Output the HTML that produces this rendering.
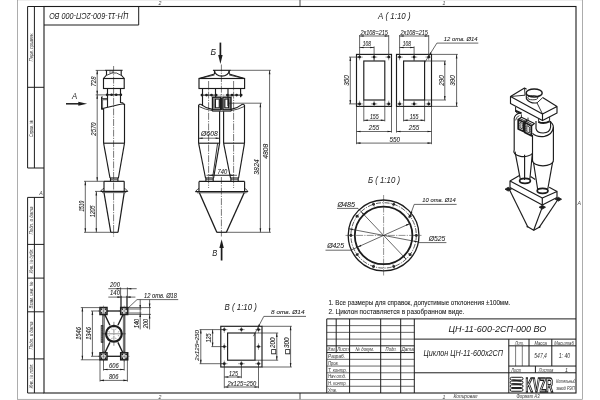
<!DOCTYPE html>
<html lang="ru"><head><meta charset="utf-8"><title>ЦН-11-600-2СП-000 ВО</title>
<style>
html,body{margin:0;padding:0;background:#fff;}
body{width:600px;height:400px;overflow:hidden;}
svg{display:block;will-change:transform;font-family:"Liberation Sans","DejaVu Sans",sans-serif;}
</style></head><body>
<svg width="600" height="400" viewBox="0 0 600 400" stroke-linecap="butt">
<rect x="0" y="0" width="600" height="400" fill="#fff"/>
<g id="frame">
<rect x="17.6" y="-0.2" width="565" height="399.5" fill="none" stroke="#8a8a8a" stroke-width="0.7"/>
<rect x="44" y="6.5" width="532" height="386.5" fill="none" stroke="#1c1c1c" stroke-width="1.1"/>
<line x1="44" y1="25" x2="138.7" y2="25" stroke="#1c1c1c" stroke-width="1"/>
<line x1="138.7" y1="6.5" x2="138.7" y2="25" stroke="#1c1c1c" stroke-width="1"/>
<text x="0" y="0" font-size="9" fill="#1a1a1a" textLength="79.2" lengthAdjust="spacingAndGlyphs" font-style="italic" transform="translate(128.4 13.4) rotate(180)">ЦН-11-600-2СП-000 ВО</text>
<line x1="27.6" y1="6.5" x2="27.6" y2="168" stroke="#1c1c1c" stroke-width="1"/>
<line x1="34.4" y1="6.5" x2="34.4" y2="168" stroke="#1c1c1c" stroke-width="1"/>
<line x1="27.6" y1="6.5" x2="44" y2="6.5" stroke="#1c1c1c" stroke-width="1"/>
<line x1="27.6" y1="168" x2="44" y2="168" stroke="#1c1c1c" stroke-width="1"/>
<line x1="27.6" y1="87.3" x2="44" y2="87.3" stroke="#1c1c1c" stroke-width="1"/>
<line x1="27.6" y1="197.4" x2="27.6" y2="393" stroke="#1c1c1c" stroke-width="1"/>
<line x1="34.4" y1="197.4" x2="34.4" y2="393" stroke="#1c1c1c" stroke-width="1"/>
<line x1="27.6" y1="197.4" x2="44" y2="197.4" stroke="#1c1c1c" stroke-width="1"/>
<line x1="27.6" y1="393" x2="44" y2="393" stroke="#1c1c1c" stroke-width="1"/>
<line x1="27.6" y1="244.4" x2="44" y2="244.4" stroke="#1c1c1c" stroke-width="1"/>
<line x1="27.6" y1="278.1" x2="44" y2="278.1" stroke="#1c1c1c" stroke-width="1"/>
<line x1="27.6" y1="311.8" x2="44" y2="311.8" stroke="#1c1c1c" stroke-width="1"/>
<line x1="27.6" y1="358.9" x2="44" y2="358.9" stroke="#1c1c1c" stroke-width="1"/>
<text x="0" y="0" font-size="4.9" fill="#333" textLength="29" lengthAdjust="spacingAndGlyphs" text-anchor="middle" font-style="italic" transform="translate(33 47) rotate(-90)">Перв. примен.</text>
<text x="0" y="0" font-size="4.9" fill="#333" textLength="17" lengthAdjust="spacingAndGlyphs" text-anchor="middle" font-style="italic" transform="translate(33 128.5) rotate(-90)">Справ. №</text>
<text x="0" y="0" font-size="4.9" fill="#333" textLength="28" lengthAdjust="spacingAndGlyphs" text-anchor="middle" font-style="italic" transform="translate(33 220.6) rotate(-90)">Подп. и дата</text>
<text x="0" y="0" font-size="4.9" fill="#333" textLength="25" lengthAdjust="spacingAndGlyphs" text-anchor="middle" font-style="italic" transform="translate(33 261) rotate(-90)">Инв. № дубл.</text>
<text x="0" y="0" font-size="4.9" fill="#333" textLength="27" lengthAdjust="spacingAndGlyphs" text-anchor="middle" font-style="italic" transform="translate(33 295) rotate(-90)">Взам. инв. №</text>
<text x="0" y="0" font-size="4.9" fill="#333" textLength="28" lengthAdjust="spacingAndGlyphs" text-anchor="middle" font-style="italic" transform="translate(33 335.5) rotate(-90)">Подп. и дата</text>
<text x="0" y="0" font-size="4.9" fill="#333" textLength="25" lengthAdjust="spacingAndGlyphs" text-anchor="middle" font-style="italic" transform="translate(33 376) rotate(-90)">Инв. № подл.</text>
<text x="39.2" y="195.2" font-size="5.2" fill="#444" font-style="italic">А</text>
<text x="577.6" y="204.8" font-size="5.2" fill="#444" font-style="italic">А</text>
<text x="158.4" y="5.2" font-size="5.2" fill="#444" font-style="italic">2</text>
<text x="442.4" y="5.2" font-size="5.2" fill="#444" font-style="italic">1</text>
<text x="158.4" y="398.6" font-size="5.2" fill="#444" font-style="italic">2</text>
<text x="442.4" y="398.6" font-size="5.2" fill="#444" font-style="italic">1</text>
<line x1="300" y1="0" x2="300" y2="6.5" stroke="#1c1c1c" stroke-width="0.8"/>
<line x1="300" y1="393" x2="300" y2="399.3" stroke="#1c1c1c" stroke-width="0.8"/>
</g>
<g id="titleblock">
<line x1="326.75" y1="318.9" x2="576" y2="318.9" stroke="#1c1c1c" stroke-width="1"/>
<line x1="326.75" y1="318.9" x2="326.75" y2="393" stroke="#1c1c1c" stroke-width="1"/>
<line x1="336.2" y1="318.9" x2="336.2" y2="352.58" stroke="#1c1c1c" stroke-width="1"/>
<line x1="349.6" y1="318.9" x2="349.6" y2="393" stroke="#1c1c1c" stroke-width="1"/>
<line x1="380.7" y1="318.9" x2="380.7" y2="393" stroke="#1c1c1c" stroke-width="1"/>
<line x1="400.7" y1="318.9" x2="400.7" y2="393" stroke="#1c1c1c" stroke-width="1"/>
<line x1="414.3" y1="318.9" x2="414.3" y2="393" stroke="#1c1c1c" stroke-width="1"/>
<line x1="326.75" y1="325.64" x2="414.3" y2="325.64" stroke="#262626" stroke-width="0.7"/>
<line x1="326.75" y1="332.37" x2="414.3" y2="332.37" stroke="#262626" stroke-width="0.7"/>
<line x1="326.75" y1="339.11" x2="414.3" y2="339.11" stroke="#262626" stroke-width="0.7"/>
<line x1="326.75" y1="345.84" x2="414.3" y2="345.84" stroke="#1c1c1c" stroke-width="1"/>
<line x1="326.75" y1="352.58" x2="414.3" y2="352.58" stroke="#1c1c1c" stroke-width="1"/>
<line x1="326.75" y1="359.32" x2="414.3" y2="359.32" stroke="#262626" stroke-width="0.7"/>
<line x1="326.75" y1="366.05" x2="414.3" y2="366.05" stroke="#262626" stroke-width="0.7"/>
<line x1="326.75" y1="372.79" x2="414.3" y2="372.79" stroke="#262626" stroke-width="0.7"/>
<line x1="326.75" y1="379.52" x2="414.3" y2="379.52" stroke="#262626" stroke-width="0.7"/>
<line x1="326.75" y1="386.26" x2="414.3" y2="386.26" stroke="#262626" stroke-width="0.7"/>
<line x1="414.3" y1="339.11" x2="576" y2="339.11" stroke="#1c1c1c" stroke-width="1"/>
<line x1="414.3" y1="372.79" x2="576" y2="372.79" stroke="#1c1c1c" stroke-width="1"/>
<line x1="508.8" y1="339.11" x2="508.8" y2="393" stroke="#1c1c1c" stroke-width="1"/>
<line x1="508.8" y1="345.84" x2="576" y2="345.84" stroke="#1c1c1c" stroke-width="1"/>
<line x1="508.8" y1="366.05" x2="576" y2="366.05" stroke="#1c1c1c" stroke-width="1"/>
<line x1="529" y1="339.11" x2="529" y2="366.05" stroke="#1c1c1c" stroke-width="1"/>
<line x1="551.8" y1="339.11" x2="551.8" y2="366.05" stroke="#1c1c1c" stroke-width="1"/>
<line x1="515.6" y1="345.84" x2="515.6" y2="366.05" stroke="#262626" stroke-width="0.6"/>
<line x1="522.3" y1="345.84" x2="522.3" y2="366.05" stroke="#262626" stroke-width="0.6"/>
<line x1="535.4" y1="366.05" x2="535.4" y2="372.79" stroke="#1c1c1c" stroke-width="1"/>
<text x="448.4" y="331.8" font-size="9.4" fill="#1a1a1a" textLength="98" lengthAdjust="spacingAndGlyphs" font-style="italic">ЦН-11-600-2СП-000 ВО</text>
<text x="423.5" y="355.6" font-size="8.6" fill="#1a1a1a" textLength="79.5" lengthAdjust="spacingAndGlyphs" font-style="italic">Циклон ЦН-11-600х2СП</text>
<text x="327.6" y="351.28" font-size="5.3" fill="#333" textLength="8" lengthAdjust="spacingAndGlyphs" font-style="italic">Изм.</text>
<text x="337.2" y="351.28" font-size="5.3" fill="#333" textLength="11.4" lengthAdjust="spacingAndGlyphs" font-style="italic">Лист</text>
<text x="355.6" y="351.28" font-size="5.3" fill="#333" textLength="18.6" lengthAdjust="spacingAndGlyphs" font-style="italic">№ докум.</text>
<text x="385.6" y="351.28" font-size="5.3" fill="#333" textLength="11.2" lengthAdjust="spacingAndGlyphs" font-style="italic">Подп.</text>
<text x="401.4" y="351.28" font-size="5.3" fill="#333" textLength="12.4" lengthAdjust="spacingAndGlyphs" font-style="italic">Дата</text>
<text x="328" y="358.12" font-size="5.3" fill="#333" textLength="17" lengthAdjust="spacingAndGlyphs" font-style="italic">Разраб.</text>
<text x="328" y="364.85" font-size="5.3" fill="#333" textLength="10.6" lengthAdjust="spacingAndGlyphs" font-style="italic">Пров.</text>
<text x="328" y="371.59" font-size="5.3" fill="#333" textLength="19" lengthAdjust="spacingAndGlyphs" font-style="italic">Т. контр.</text>
<text x="328" y="378.32" font-size="5.3" fill="#333" textLength="18" lengthAdjust="spacingAndGlyphs" font-style="italic">Нач.отд.</text>
<text x="328" y="385.06" font-size="5.3" fill="#333" textLength="18.6" lengthAdjust="spacingAndGlyphs" font-style="italic">Н. контр.</text>
<text x="328" y="391.8" font-size="5.3" fill="#333" textLength="9" lengthAdjust="spacingAndGlyphs" font-style="italic">Утв.</text>
<text x="515" y="344.64" font-size="5.3" fill="#333" textLength="8.8" lengthAdjust="spacingAndGlyphs" font-style="italic">Лит.</text>
<text x="534.4" y="344.64" font-size="5.3" fill="#333" textLength="12.6" lengthAdjust="spacingAndGlyphs" font-style="italic">Масса</text>
<text x="554.2" y="344.64" font-size="5.3" fill="#333" textLength="19.6" lengthAdjust="spacingAndGlyphs" font-style="italic">Масштаб</text>
<text x="540.6" y="358.3" font-size="6.3" fill="#333" textLength="12.6" lengthAdjust="spacingAndGlyphs" text-anchor="middle" font-style="italic">547,4</text>
<text x="564.4" y="358.3" font-size="6.3" fill="#333" textLength="11.4" lengthAdjust="spacingAndGlyphs" text-anchor="middle" font-style="italic">1: 40</text>
<text x="511.2" y="371.59" font-size="5.3" fill="#333" textLength="10" lengthAdjust="spacingAndGlyphs" font-style="italic">Лист</text>
<text x="538.8" y="371.59" font-size="5.3" fill="#333" textLength="14.4" lengthAdjust="spacingAndGlyphs" font-style="italic">Листов</text>
<text x="565" y="371.59" font-size="5.3" fill="#333" font-style="italic">1</text>
<text x="556.2" y="382.6" font-size="5.2" fill="#333" textLength="19.4" lengthAdjust="spacingAndGlyphs" font-style="italic">Котельный</text>
<text x="556.2" y="390" font-size="5.2" fill="#333" textLength="18.4" lengthAdjust="spacingAndGlyphs" font-style="italic">завод РЭП</text>
<text x="453.5" y="398.2" font-size="5.2" fill="#333" textLength="24" lengthAdjust="spacingAndGlyphs" font-style="italic">Копировал</text>
<text x="516.5" y="398.2" font-size="5.2" fill="#333" textLength="23" lengthAdjust="spacingAndGlyphs" font-style="italic">Формат А3</text>
<rect x="510.2" y="377.3" width="12.8" height="2.7" rx="1.35" fill="#fff" stroke="#1c1c1c" stroke-width="1.0"/>
<rect x="510.2" y="381.05" width="12.8" height="2.7" rx="1.35" fill="#fff" stroke="#1c1c1c" stroke-width="1.0"/>
<rect x="510.2" y="384.8" width="12.8" height="2.7" rx="1.35" fill="#fff" stroke="#1c1c1c" stroke-width="1.0"/>
<rect x="510.2" y="388.55" width="12.8" height="2.7" rx="1.35" fill="#fff" stroke="#1c1c1c" stroke-width="1.0"/>
<line x1="512.4" y1="380" x2="521" y2="381.05" stroke="#1c1c1c" stroke-width="1"/>
<line x1="513.6" y1="380" x2="522.2" y2="381.05" stroke="#262626" stroke-width="0.6"/>
<line x1="512.4" y1="383.75" x2="521" y2="384.8" stroke="#1c1c1c" stroke-width="1"/>
<line x1="513.6" y1="383.75" x2="522.2" y2="384.8" stroke="#262626" stroke-width="0.6"/>
<line x1="512.4" y1="387.5" x2="521" y2="388.55" stroke="#1c1c1c" stroke-width="1"/>
<line x1="513.6" y1="387.5" x2="522.2" y2="388.55" stroke="#262626" stroke-width="0.6"/>
<text x="525.6" y="391.7" font-size="20.6" font-weight="bold" fill="#fff" stroke="#1c1c1c" stroke-width="1.45" stroke-linejoin="miter" textLength="27.6" lengthAdjust="spacingAndGlyphs">KVZR</text>
</g>
<text x="328.4" y="305.2" font-size="6.5" fill="#222" stroke="#222" stroke-width="0.08" textLength="181.8" lengthAdjust="spacingAndGlyphs">1. Все размеры для справок, допустимые отклонения ±100мм.</text>
<text x="328.4" y="313.6" font-size="6.5" fill="#222" stroke="#222" stroke-width="0.08" textLength="136" lengthAdjust="spacingAndGlyphs">2. Циклон поставляется в разобранном виде.</text>
<g id="side">
<line x1="113.6" y1="66" x2="113.6" y2="236.5" stroke="#1c1c1c" stroke-width="0.6" stroke-dasharray="7 1.2 1.2 1.2"/>
<line x1="105" y1="70.3" x2="122.6" y2="70.3" stroke="#1c1c1c" stroke-width="1.1"/>
<line x1="106.5" y1="70.3" x2="106.5" y2="75" stroke="#1c1c1c" stroke-width="1.15"/>
<line x1="121.2" y1="70.3" x2="121.2" y2="75" stroke="#1c1c1c" stroke-width="1.15"/>
<line x1="110" y1="70.3" x2="110" y2="73.4" stroke="#262626" stroke-width="0.7"/>
<line x1="112.2" y1="70.3" x2="112.2" y2="73" stroke="#262626" stroke-width="0.7"/>
<path d="M106.5 75 L103.5 78.5" fill="none" stroke="#1c1c1c" stroke-width="1.15" stroke-linejoin="round"/>
<path d="M121.2 75 L124.2 78.5" fill="none" stroke="#1c1c1c" stroke-width="1.15" stroke-linejoin="round"/>
<path d="M106.5 75.4 L112 73 L116.5 73 L121.2 75.4" fill="none" stroke="#1c1c1c" stroke-width="0.8" stroke-linejoin="round"/>
<rect x="103.5" y="78.5" width="20.7" height="10" fill="none" stroke="#1c1c1c" stroke-width="1.15"/>
<line x1="107.5" y1="88.5" x2="107.5" y2="107.2" stroke="#1c1c1c" stroke-width="1.15"/>
<line x1="120.5" y1="88.5" x2="120.5" y2="103" stroke="#1c1c1c" stroke-width="1.15"/>
<line x1="106.3" y1="94.8" x2="121.7" y2="94.8" stroke="#1c1c1c" stroke-width="1.2"/>
<circle cx="107.1" cy="94.8" r="1.3" fill="#1c1c1c"/>
<circle cx="111.6" cy="94.8" r="1.3" fill="#1c1c1c"/>
<circle cx="116.2" cy="94.8" r="1.3" fill="#1c1c1c"/>
<circle cx="120.9" cy="94.8" r="1.3" fill="#1c1c1c"/>
<line x1="101.6" y1="96.8" x2="101.6" y2="109.6" stroke="#1c1c1c" stroke-width="1.1"/>
<line x1="101.6" y1="97" x2="103" y2="97" stroke="#1c1c1c" stroke-width="0.8"/>
<line x1="101.6" y1="109.4" x2="103" y2="109.4" stroke="#1c1c1c" stroke-width="0.8"/>
<line x1="101.6" y1="98.8" x2="107.5" y2="98.8" stroke="#1c1c1c" stroke-width="1.15"/>
<line x1="102.6" y1="99.8" x2="102.6" y2="108.6" stroke="#262626" stroke-width="0.7"/>
<line x1="102.6" y1="99.8" x2="107.5" y2="99.8" stroke="#262626" stroke-width="0.6"/>
<line x1="101.6" y1="108.4" x2="103.6" y2="108.4" stroke="#1c1c1c" stroke-width="1.15"/>
<line x1="103.6" y1="108.2" x2="103.6" y2="143.2" stroke="#1c1c1c" stroke-width="1.15"/>
<line x1="124.5" y1="104" x2="124.5" y2="143.2" stroke="#1c1c1c" stroke-width="1.15"/>
<path d="M103.6 108.3 L120.5 104.2 Q123.5 103.4 124.5 104.6" fill="none" stroke="#1c1c1c" stroke-width="1.15"/>
<path d="M120.5 102.4 Q123.8 102 124.5 104.4" fill="none" stroke="#1c1c1c" stroke-width="0.8"/>
<line x1="103.6" y1="143.2" x2="124.5" y2="143.2" stroke="#1c1c1c" stroke-width="1.15"/>
<line x1="103.6" y1="143.2" x2="110" y2="178" stroke="#1c1c1c" stroke-width="1.15"/>
<line x1="124.5" y1="143.2" x2="118.4" y2="178" stroke="#1c1c1c" stroke-width="1.15"/>
<line x1="110" y1="178" x2="118.4" y2="178" stroke="#1c1c1c" stroke-width="1.15"/>
<line x1="110.5" y1="178" x2="110.5" y2="181.3" stroke="#1c1c1c" stroke-width="1.15"/>
<line x1="117.9" y1="178" x2="117.9" y2="181.3" stroke="#1c1c1c" stroke-width="1.15"/>
<line x1="110.5" y1="179.6" x2="117.9" y2="179.6" stroke="#262626" stroke-width="0.7"/>
<line x1="104" y1="181.3" x2="124.2" y2="181.3" stroke="#1c1c1c" stroke-width="1.2"/>
<line x1="104" y1="181.3" x2="104" y2="191.4" stroke="#1c1c1c" stroke-width="1.15"/>
<line x1="124.2" y1="181.3" x2="124.2" y2="191.4" stroke="#1c1c1c" stroke-width="1.15"/>
<line x1="100.4" y1="191.4" x2="127.8" y2="191.4" stroke="#1c1c1c" stroke-width="1.2"/>
<path d="M100.4 191.4 L103 188.6 L104 188.6" fill="none" stroke="#1c1c1c" stroke-width="0.8" stroke-linejoin="round"/>
<path d="M127.8 191.4 L125.2 188.6 L124.2 188.6" fill="none" stroke="#1c1c1c" stroke-width="0.8" stroke-linejoin="round"/>
<line x1="102" y1="192.6" x2="126.2" y2="192.6" stroke="#262626" stroke-width="0.7"/>
<line x1="104" y1="192.6" x2="110.8" y2="232.3" stroke="#1c1c1c" stroke-width="1.2"/>
<line x1="124.2" y1="192.6" x2="118" y2="232.3" stroke="#1c1c1c" stroke-width="1.2"/>
<line x1="110.8" y1="232.3" x2="118" y2="232.3" stroke="#1c1c1c" stroke-width="1.1"/>
<line x1="95.7" y1="70.4" x2="105" y2="70.4" stroke="#262626" stroke-width="0.7"/>
<line x1="95.7" y1="94.9" x2="106.3" y2="94.9" stroke="#262626" stroke-width="0.7"/>
<line x1="97.2" y1="70.3" x2="97.2" y2="94.8" stroke="#262626" stroke-width="0.7"/>
<polygon points="97.2,70.3 98,74.3 96.4,74.3" fill="#1c1c1c"/>
<polygon points="97.2,94.8 96.4,90.8 98,90.8" fill="#1c1c1c"/>
<text x="0" y="0" font-size="6.5" fill="#1a1a1a" stroke="#1a1a1a" stroke-width="0.08" textLength="9.8" lengthAdjust="spacingAndGlyphs" text-anchor="middle" font-style="italic" transform="translate(95.6 81.5) rotate(-90)">728</text>
<line x1="97.2" y1="94.8" x2="97.2" y2="181.3" stroke="#262626" stroke-width="0.7"/>
<polygon points="97.2,94.8 98,98.8 96.4,98.8" fill="#1c1c1c"/>
<polygon points="97.2,181.3 96.4,177.3 98,177.3" fill="#1c1c1c"/>
<text x="0" y="0" font-size="6.5" fill="#1a1a1a" stroke="#1a1a1a" stroke-width="0.08" textLength="13.4" lengthAdjust="spacingAndGlyphs" text-anchor="middle" font-style="italic" transform="translate(95.6 129) rotate(-90)">2570</text>
<line x1="84" y1="181.3" x2="104" y2="181.3" stroke="#262626" stroke-width="0.7"/>
<line x1="84" y1="232.3" x2="110.8" y2="232.3" stroke="#262626" stroke-width="0.7"/>
<line x1="85.3" y1="181.3" x2="85.3" y2="232.3" stroke="#262626" stroke-width="0.7"/>
<polygon points="85.3,181.3 86.1,185.3 84.5,185.3" fill="#1c1c1c"/>
<polygon points="85.3,232.3 84.5,228.3 86.1,228.3" fill="#1c1c1c"/>
<text x="0" y="0" font-size="6.8" fill="#1a1a1a" stroke="#1a1a1a" stroke-width="0.08" textLength="10.8" lengthAdjust="spacingAndGlyphs" text-anchor="middle" font-style="italic" transform="translate(84.2 206.2) rotate(-90)">1510</text>
<line x1="95" y1="191.4" x2="100.4" y2="191.4" stroke="#262626" stroke-width="0.7"/>
<line x1="96.3" y1="191.4" x2="96.3" y2="232.3" stroke="#262626" stroke-width="0.7"/>
<polygon points="96.3,191.4 97.1,195.4 95.5,195.4" fill="#1c1c1c"/>
<polygon points="96.3,232.3 95.5,228.3 97.1,228.3" fill="#1c1c1c"/>
<text x="0" y="0" font-size="6.8" fill="#1a1a1a" stroke="#1a1a1a" stroke-width="0.08" textLength="11.8" lengthAdjust="spacingAndGlyphs" text-anchor="middle" font-style="italic" transform="translate(95.2 211.4) rotate(-90)">1205</text>
<line x1="66" y1="103.8" x2="80" y2="103.8" stroke="#1c1c1c" stroke-width="1.5"/>
<polygon points="87.1,103.8 78.3,105.75 78.3,101.85" fill="#1c1c1c"/>
<text x="72" y="98.7" font-size="9" fill="#1a1a1a" textLength="5.2" lengthAdjust="spacingAndGlyphs" font-style="italic">А</text>
</g>
<g id="front">
<line x1="221.4" y1="64.5" x2="221.4" y2="97" stroke="#1c1c1c" stroke-width="0.6" stroke-dasharray="7 1.2 1.2 1.2"/>
<line x1="221.4" y1="177" x2="221.4" y2="236.5" stroke="#1c1c1c" stroke-width="0.6" stroke-dasharray="7 1.2 1.2 1.2"/>
<line x1="208.6" y1="81" x2="208.6" y2="188" stroke="#1c1c1c" stroke-width="0.6" stroke-dasharray="7 1.2 1.2 1.2"/>
<line x1="233.6" y1="81" x2="233.6" y2="188" stroke="#1c1c1c" stroke-width="0.6" stroke-dasharray="7 1.2 1.2 1.2"/>
<line x1="220.4" y1="42.6" x2="220.4" y2="57" stroke="#1c1c1c" stroke-width="1.7"/>
<polygon points="220.4,63.9 218.2,55.1 222.6,55.1" fill="#1c1c1c"/>
<text x="210.4" y="54.7" font-size="9.4" fill="#1a1a1a" textLength="5.6" lengthAdjust="spacingAndGlyphs" font-style="italic">Б</text>
<line x1="212.9" y1="70.3" x2="230.9" y2="70.3" stroke="#1c1c1c" stroke-width="1.1"/>
<line x1="214.5" y1="70.3" x2="214.5" y2="74" stroke="#1c1c1c" stroke-width="1.15"/>
<line x1="229.2" y1="70.3" x2="229.2" y2="74" stroke="#1c1c1c" stroke-width="1.15"/>
<path d="M214.5 70.5 A7.35 5.6 0 0 0 229.2 70.5" fill="none" stroke="#1c1c1c" stroke-width="1.15"/>
<line x1="214.5" y1="74" x2="199" y2="78.5" stroke="#1c1c1c" stroke-width="1.15"/>
<line x1="229.2" y1="74" x2="244.6" y2="78.5" stroke="#1c1c1c" stroke-width="1.15"/>
<rect x="199" y="78.5" width="45.6" height="10" fill="none" stroke="#1c1c1c" stroke-width="1.15"/>
<line x1="202.5" y1="88.5" x2="202.5" y2="106" stroke="#1c1c1c" stroke-width="1.15"/>
<line x1="215.5" y1="88.5" x2="215.5" y2="97.2" stroke="#1c1c1c" stroke-width="1.15"/>
<line x1="201.5" y1="95.1" x2="216.5" y2="95.1" stroke="#1c1c1c" stroke-width="1"/>
<circle cx="201.9" cy="95.1" r="1.35" fill="#1c1c1c"/>
<circle cx="206.5" cy="95.1" r="1.35" fill="#1c1c1c"/>
<circle cx="211.5" cy="95.1" r="1.35" fill="#1c1c1c"/>
<circle cx="216.1" cy="95.1" r="1.35" fill="#1c1c1c"/>
<line x1="228" y1="88.5" x2="228" y2="106" stroke="#1c1c1c" stroke-width="1.15"/>
<line x1="240.6" y1="88.5" x2="240.6" y2="97.2" stroke="#1c1c1c" stroke-width="1.15"/>
<line x1="227" y1="95.1" x2="241.6" y2="95.1" stroke="#1c1c1c" stroke-width="1"/>
<circle cx="227.4" cy="95.1" r="1.35" fill="#1c1c1c"/>
<circle cx="232" cy="95.1" r="1.35" fill="#1c1c1c"/>
<circle cx="236.6" cy="95.1" r="1.35" fill="#1c1c1c"/>
<circle cx="241.2" cy="95.1" r="1.35" fill="#1c1c1c"/>
<line x1="216.5" y1="95.1" x2="227" y2="95.1" stroke="#1c1c1c" stroke-width="0.5" stroke-dasharray="2 1"/>
<line x1="214.5" y1="75" x2="200.4" y2="78.3" stroke="#1c1c1c" stroke-width="0.8"/>
<line x1="229.2" y1="75" x2="243.2" y2="78.3" stroke="#1c1c1c" stroke-width="0.8"/>
<rect x="212.5" y="97.2" width="8.1" height="12.6" fill="none" stroke="#1c1c1c" stroke-width="1.4"/>
<rect x="215.4" y="99" width="3.9" height="8.9" fill="none" stroke="#1c1c1c" stroke-width="1.2"/>
<rect x="223" y="97.2" width="8" height="12.6" fill="none" stroke="#1c1c1c" stroke-width="1.4"/>
<rect x="224.8" y="99" width="3.7" height="8.9" fill="none" stroke="#1c1c1c" stroke-width="1.2"/>
<line x1="228.7" y1="98.2" x2="230.9" y2="98.2" stroke="#1c1c1c" stroke-width="0.6"/>
<line x1="228.7" y1="99.25" x2="230.9" y2="99.25" stroke="#1c1c1c" stroke-width="0.6"/>
<line x1="228.7" y1="100.3" x2="230.9" y2="100.3" stroke="#1c1c1c" stroke-width="0.6"/>
<line x1="228.7" y1="101.35" x2="230.9" y2="101.35" stroke="#1c1c1c" stroke-width="0.6"/>
<line x1="228.7" y1="102.4" x2="230.9" y2="102.4" stroke="#1c1c1c" stroke-width="0.6"/>
<line x1="228.7" y1="103.45" x2="230.9" y2="103.45" stroke="#1c1c1c" stroke-width="0.6"/>
<line x1="228.7" y1="104.5" x2="230.9" y2="104.5" stroke="#1c1c1c" stroke-width="0.6"/>
<line x1="228.7" y1="105.55" x2="230.9" y2="105.55" stroke="#1c1c1c" stroke-width="0.6"/>
<line x1="228.7" y1="106.6" x2="230.9" y2="106.6" stroke="#1c1c1c" stroke-width="0.6"/>
<line x1="228.7" y1="107.65" x2="230.9" y2="107.65" stroke="#1c1c1c" stroke-width="0.6"/>
<line x1="228.7" y1="108.7" x2="230.9" y2="108.7" stroke="#1c1c1c" stroke-width="0.6"/>
<line x1="212.7" y1="98.2" x2="215.2" y2="98.2" stroke="#1c1c1c" stroke-width="0.5"/>
<line x1="212.7" y1="99.25" x2="215.2" y2="99.25" stroke="#1c1c1c" stroke-width="0.5"/>
<line x1="212.7" y1="100.3" x2="215.2" y2="100.3" stroke="#1c1c1c" stroke-width="0.5"/>
<line x1="212.7" y1="101.35" x2="215.2" y2="101.35" stroke="#1c1c1c" stroke-width="0.5"/>
<line x1="212.7" y1="102.4" x2="215.2" y2="102.4" stroke="#1c1c1c" stroke-width="0.5"/>
<line x1="212.7" y1="103.45" x2="215.2" y2="103.45" stroke="#1c1c1c" stroke-width="0.5"/>
<line x1="212.7" y1="104.5" x2="215.2" y2="104.5" stroke="#1c1c1c" stroke-width="0.5"/>
<line x1="212.7" y1="105.55" x2="215.2" y2="105.55" stroke="#1c1c1c" stroke-width="0.5"/>
<line x1="212.7" y1="106.6" x2="215.2" y2="106.6" stroke="#1c1c1c" stroke-width="0.5"/>
<line x1="212.7" y1="107.65" x2="215.2" y2="107.65" stroke="#1c1c1c" stroke-width="0.5"/>
<line x1="212.7" y1="108.7" x2="215.2" y2="108.7" stroke="#1c1c1c" stroke-width="0.5"/>
<line x1="221.8" y1="97.5" x2="221.8" y2="110" stroke="#1c1c1c" stroke-width="1.5"/>
<path d="M212.3 109.8 L212.3 111.2 L231.2 111.2 L231.2 109.8" fill="none" stroke="#1c1c1c" stroke-width="0.9"/>
<line x1="198.6" y1="105" x2="198.6" y2="143.2" stroke="#1c1c1c" stroke-width="1.15"/>
<line x1="244.5" y1="105" x2="244.5" y2="143.2" stroke="#1c1c1c" stroke-width="1.15"/>
<path d="M198.6 105.4 Q199.5 103.6 201.3 104.6 Q206 108.4 212.4 109.4" fill="none" stroke="#1c1c1c" stroke-width="1.15"/>
<path d="M199.2 106.6 Q205 109.6 212.4 110.6" fill="none" stroke="#1c1c1c" stroke-width="0.8"/>
<path d="M244.5 105.4 Q243.6 103.6 241.8 104.6 Q237 108.4 231.1 109.4" fill="none" stroke="#1c1c1c" stroke-width="1.15"/>
<path d="M244 106.6 Q238 109.6 231.1 110.6" fill="none" stroke="#1c1c1c" stroke-width="0.8"/>
<line x1="219.6" y1="111.2" x2="219.6" y2="143.2" stroke="#1c1c1c" stroke-width="1.15"/>
<line x1="223.6" y1="111.2" x2="223.6" y2="143.2" stroke="#1c1c1c" stroke-width="1.15"/>
<line x1="198.6" y1="143.2" x2="219.6" y2="143.2" stroke="#1c1c1c" stroke-width="1.15"/>
<line x1="223.6" y1="143.2" x2="244.5" y2="143.2" stroke="#1c1c1c" stroke-width="1.15"/>
<line x1="198.6" y1="138.2" x2="219.6" y2="138.2" stroke="#262626" stroke-width="0.7"/>
<polygon points="198.6,138.2 202.6,137.4 202.6,139" fill="#1c1c1c"/>
<polygon points="219.6,138.2 215.6,139 215.6,137.4" fill="#1c1c1c"/>
<text x="209.4" y="136" font-size="6.8" fill="#1a1a1a" stroke="#1a1a1a" stroke-width="0.08" textLength="16.6" lengthAdjust="spacingAndGlyphs" text-anchor="middle" font-style="italic">Ø608</text>
<line x1="198.6" y1="143.2" x2="205.5" y2="178" stroke="#1c1c1c" stroke-width="1.15"/>
<line x1="219.6" y1="143.2" x2="213.6" y2="178" stroke="#1c1c1c" stroke-width="1.15"/>
<line x1="217.6" y1="143.2" x2="212.8" y2="176.5" stroke="#1c1c1c" stroke-width="0.9"/>
<line x1="223.6" y1="143.2" x2="230.5" y2="178" stroke="#1c1c1c" stroke-width="1.15"/>
<line x1="244.5" y1="143.2" x2="238.6" y2="178" stroke="#1c1c1c" stroke-width="1.15"/>
<line x1="205.5" y1="178" x2="213.6" y2="178" stroke="#1c1c1c" stroke-width="1.15"/>
<line x1="205.9" y1="178" x2="205.9" y2="181.3" stroke="#1c1c1c" stroke-width="1.15"/>
<line x1="213.2" y1="178" x2="213.2" y2="181.3" stroke="#1c1c1c" stroke-width="1.15"/>
<line x1="205.9" y1="179.6" x2="213.2" y2="179.6" stroke="#262626" stroke-width="0.7"/>
<line x1="230.5" y1="178" x2="238.6" y2="178" stroke="#1c1c1c" stroke-width="1.15"/>
<line x1="230.9" y1="178" x2="230.9" y2="181.3" stroke="#1c1c1c" stroke-width="1.15"/>
<line x1="238.2" y1="178" x2="238.2" y2="181.3" stroke="#1c1c1c" stroke-width="1.15"/>
<line x1="230.9" y1="179.6" x2="238.2" y2="179.6" stroke="#262626" stroke-width="0.7"/>
<line x1="209" y1="175.3" x2="234" y2="175.3" stroke="#262626" stroke-width="0.7"/>
<polygon points="209,175.3 213,174.5 213,176.1" fill="#1c1c1c"/>
<polygon points="234,175.3 230,176.1 230,174.5" fill="#1c1c1c"/>
<line x1="206.5" y1="175.3" x2="237" y2="175.3" stroke="#262626" stroke-width="0.7"/>
<text x="222.3" y="174" font-size="7" fill="#1a1a1a" stroke="#1a1a1a" stroke-width="0.08" textLength="9.6" lengthAdjust="spacingAndGlyphs" text-anchor="middle" font-style="italic">740</text>
<line x1="199" y1="181.4" x2="244.6" y2="181.4" stroke="#1c1c1c" stroke-width="1.2"/>
<line x1="199" y1="181.4" x2="199" y2="191.6" stroke="#1c1c1c" stroke-width="1.15"/>
<line x1="244.6" y1="181.4" x2="244.6" y2="191.6" stroke="#1c1c1c" stroke-width="1.15"/>
<line x1="195.4" y1="191.6" x2="248" y2="191.6" stroke="#1c1c1c" stroke-width="1.2"/>
<path d="M195.4 191.6 L198 188.8 L199 188.8" fill="none" stroke="#1c1c1c" stroke-width="0.8" stroke-linejoin="round"/>
<path d="M248 191.6 L245.6 188.8 L244.6 188.8" fill="none" stroke="#1c1c1c" stroke-width="0.8" stroke-linejoin="round"/>
<line x1="197" y1="192.8" x2="246.6" y2="192.8" stroke="#262626" stroke-width="0.7"/>
<line x1="199.4" y1="192.8" x2="216.8" y2="232.3" stroke="#1c1c1c" stroke-width="1.3"/>
<line x1="244.2" y1="192.8" x2="226.4" y2="232.3" stroke="#1c1c1c" stroke-width="1.3"/>
<line x1="216.6" y1="232.3" x2="226.6" y2="232.3" stroke="#1c1c1c" stroke-width="1.2"/>
<line x1="230.9" y1="70.3" x2="270.8" y2="70.3" stroke="#262626" stroke-width="0.7"/>
<line x1="226" y1="232.3" x2="270.8" y2="232.3" stroke="#262626" stroke-width="0.7"/>
<line x1="229" y1="103.2" x2="261.6" y2="103.2" stroke="#262626" stroke-width="0.7"/>
<line x1="260.4" y1="103.2" x2="260.4" y2="232.3" stroke="#262626" stroke-width="0.7"/>
<polygon points="260.4,103.2 261.2,107.2 259.6,107.2" fill="#1c1c1c"/>
<polygon points="260.4,232.3 259.6,228.3 261.2,228.3" fill="#1c1c1c"/>
<text x="0" y="0" font-size="7" fill="#1a1a1a" stroke="#1a1a1a" stroke-width="0.08" textLength="15.5" lengthAdjust="spacingAndGlyphs" text-anchor="middle" font-style="italic" transform="translate(259.2 167) rotate(-90)">3824</text>
<line x1="269.6" y1="70.3" x2="269.6" y2="232.3" stroke="#262626" stroke-width="0.7"/>
<polygon points="269.6,70.3 270.4,74.3 268.8,74.3" fill="#1c1c1c"/>
<polygon points="269.6,232.3 268.8,228.3 270.4,228.3" fill="#1c1c1c"/>
<text x="0" y="0" font-size="7" fill="#1a1a1a" stroke="#1a1a1a" stroke-width="0.08" textLength="15" lengthAdjust="spacingAndGlyphs" text-anchor="middle" font-style="italic" transform="translate(268.4 151.3) rotate(-90)">4808</text>
<line x1="221.6" y1="260.5" x2="221.6" y2="246" stroke="#1c1c1c" stroke-width="1.7"/>
<polygon points="221.6,239.3 223.8,248.1 219.4,248.1" fill="#1c1c1c"/>
<text x="212.2" y="255.5" font-size="8.8" fill="#1a1a1a" textLength="5" lengthAdjust="spacingAndGlyphs" font-style="italic">В</text>
</g>
<g id="viewA">
<text x="378" y="18.8" font-size="8.2" fill="#1a1a1a" textLength="32.6" lengthAdjust="spacingAndGlyphs" font-style="italic">А ( 1:10 )</text>
<rect x="356.5" y="54.4" width="35" height="52" fill="none" stroke="#1c1c1c" stroke-width="1.15"/>
<rect x="363.8" y="61" width="21" height="39" fill="none" stroke="#1c1c1c" stroke-width="1.15"/>
<line x1="356.4" y1="57.1" x2="362.8" y2="57.1" stroke="#555" stroke-width="0.6"/>
<line x1="359.6" y1="53.9" x2="359.6" y2="60.3" stroke="#555" stroke-width="0.6"/>
<circle cx="359.6" cy="57.1" r="1.4" fill="#1c1c1c"/>
<line x1="356.4" y1="103.9" x2="362.8" y2="103.9" stroke="#555" stroke-width="0.6"/>
<line x1="359.6" y1="100.7" x2="359.6" y2="107.1" stroke="#555" stroke-width="0.6"/>
<circle cx="359.6" cy="103.9" r="1.4" fill="#1c1c1c"/>
<line x1="370.9" y1="57.1" x2="377.3" y2="57.1" stroke="#555" stroke-width="0.6"/>
<line x1="374.1" y1="53.9" x2="374.1" y2="60.3" stroke="#555" stroke-width="0.6"/>
<circle cx="374.1" cy="57.1" r="1.4" fill="#1c1c1c"/>
<line x1="370.9" y1="103.9" x2="377.3" y2="103.9" stroke="#555" stroke-width="0.6"/>
<line x1="374.1" y1="100.7" x2="374.1" y2="107.1" stroke="#555" stroke-width="0.6"/>
<circle cx="374.1" cy="103.9" r="1.4" fill="#1c1c1c"/>
<line x1="385.5" y1="57.1" x2="391.9" y2="57.1" stroke="#555" stroke-width="0.6"/>
<line x1="388.7" y1="53.9" x2="388.7" y2="60.3" stroke="#555" stroke-width="0.6"/>
<circle cx="388.7" cy="57.1" r="1.4" fill="#1c1c1c"/>
<line x1="385.5" y1="103.9" x2="391.9" y2="103.9" stroke="#555" stroke-width="0.6"/>
<line x1="388.7" y1="100.7" x2="388.7" y2="107.1" stroke="#555" stroke-width="0.6"/>
<circle cx="388.7" cy="103.9" r="1.4" fill="#1c1c1c"/>
<line x1="359.6" y1="35" x2="359.6" y2="57" stroke="#262626" stroke-width="0.7"/>
<line x1="388.7" y1="35" x2="388.7" y2="57" stroke="#262626" stroke-width="0.7"/>
<line x1="374.1" y1="46.4" x2="374.1" y2="61" stroke="#262626" stroke-width="0.7"/>
<line x1="359.6" y1="36" x2="388.7" y2="36" stroke="#262626" stroke-width="0.7"/>
<polygon points="359.6,36 363.6,35.2 363.6,36.8" fill="#1c1c1c"/>
<polygon points="388.7,36 384.7,36.8 384.7,35.2" fill="#1c1c1c"/>
<text x="374.15" y="34.8" font-size="6.3" fill="#1a1a1a" stroke="#1a1a1a" stroke-width="0.08" textLength="27.5" lengthAdjust="spacingAndGlyphs" text-anchor="middle" font-style="italic">2x108=215</text>
<line x1="359.6" y1="47.5" x2="374.1" y2="47.5" stroke="#262626" stroke-width="0.7"/>
<polygon points="359.6,47.5 363.6,46.7 363.6,48.3" fill="#1c1c1c"/>
<polygon points="374.1,47.5 370.1,48.3 370.1,46.7" fill="#1c1c1c"/>
<text x="366.85" y="46.3" font-size="6.3" fill="#1a1a1a" stroke="#1a1a1a" stroke-width="0.08" textLength="8.2" lengthAdjust="spacingAndGlyphs" text-anchor="middle" font-style="italic">108</text>
<line x1="363.8" y1="100" x2="363.8" y2="121.4" stroke="#262626" stroke-width="0.7"/>
<line x1="384.8" y1="100" x2="384.8" y2="121.4" stroke="#262626" stroke-width="0.7"/>
<line x1="363.8" y1="120.3" x2="384.8" y2="120.3" stroke="#262626" stroke-width="0.7"/>
<polygon points="363.8,120.3 367.8,119.5 367.8,121.1" fill="#1c1c1c"/>
<polygon points="384.8,120.3 380.8,121.1 380.8,119.5" fill="#1c1c1c"/>
<text x="374.3" y="118.9" font-size="6.6" fill="#1a1a1a" stroke="#1a1a1a" stroke-width="0.08" textLength="8.8" lengthAdjust="spacingAndGlyphs" text-anchor="middle" font-style="italic">155</text>
<line x1="356.5" y1="131.5" x2="391.5" y2="131.5" stroke="#262626" stroke-width="0.7"/>
<polygon points="356.5,131.5 360.5,130.7 360.5,132.3" fill="#1c1c1c"/>
<polygon points="391.5,131.5 387.5,132.3 387.5,130.7" fill="#1c1c1c"/>
<text x="374" y="130.1" font-size="6.6" fill="#1a1a1a" stroke="#1a1a1a" stroke-width="0.08" textLength="10.4" lengthAdjust="spacingAndGlyphs" text-anchor="middle" font-style="italic">255</text>
<rect x="396.5" y="54.4" width="35" height="52" fill="none" stroke="#1c1c1c" stroke-width="1.15"/>
<rect x="403.6" y="61" width="21" height="39" fill="none" stroke="#1c1c1c" stroke-width="1.15"/>
<line x1="396.4" y1="57.1" x2="402.8" y2="57.1" stroke="#555" stroke-width="0.6"/>
<line x1="399.6" y1="53.9" x2="399.6" y2="60.3" stroke="#555" stroke-width="0.6"/>
<circle cx="399.6" cy="57.1" r="1.4" fill="#1c1c1c"/>
<line x1="396.4" y1="103.9" x2="402.8" y2="103.9" stroke="#555" stroke-width="0.6"/>
<line x1="399.6" y1="100.7" x2="399.6" y2="107.1" stroke="#555" stroke-width="0.6"/>
<circle cx="399.6" cy="103.9" r="1.4" fill="#1c1c1c"/>
<line x1="410.9" y1="57.1" x2="417.3" y2="57.1" stroke="#555" stroke-width="0.6"/>
<line x1="414.1" y1="53.9" x2="414.1" y2="60.3" stroke="#555" stroke-width="0.6"/>
<circle cx="414.1" cy="57.1" r="1.4" fill="#1c1c1c"/>
<line x1="410.9" y1="103.9" x2="417.3" y2="103.9" stroke="#555" stroke-width="0.6"/>
<line x1="414.1" y1="100.7" x2="414.1" y2="107.1" stroke="#555" stroke-width="0.6"/>
<circle cx="414.1" cy="103.9" r="1.4" fill="#1c1c1c"/>
<line x1="425.5" y1="57.1" x2="431.9" y2="57.1" stroke="#555" stroke-width="0.6"/>
<line x1="428.7" y1="53.9" x2="428.7" y2="60.3" stroke="#555" stroke-width="0.6"/>
<circle cx="428.7" cy="57.1" r="1.4" fill="#1c1c1c"/>
<line x1="425.5" y1="103.9" x2="431.9" y2="103.9" stroke="#555" stroke-width="0.6"/>
<line x1="428.7" y1="100.7" x2="428.7" y2="107.1" stroke="#555" stroke-width="0.6"/>
<circle cx="428.7" cy="103.9" r="1.4" fill="#1c1c1c"/>
<line x1="399.6" y1="35" x2="399.6" y2="57" stroke="#262626" stroke-width="0.7"/>
<line x1="428.7" y1="35" x2="428.7" y2="57" stroke="#262626" stroke-width="0.7"/>
<line x1="414.1" y1="46.4" x2="414.1" y2="61" stroke="#262626" stroke-width="0.7"/>
<line x1="399.6" y1="36" x2="428.7" y2="36" stroke="#262626" stroke-width="0.7"/>
<polygon points="399.6,36 403.6,35.2 403.6,36.8" fill="#1c1c1c"/>
<polygon points="428.7,36 424.7,36.8 424.7,35.2" fill="#1c1c1c"/>
<text x="414.15" y="34.8" font-size="6.3" fill="#1a1a1a" stroke="#1a1a1a" stroke-width="0.08" textLength="27.5" lengthAdjust="spacingAndGlyphs" text-anchor="middle" font-style="italic">2x108=215</text>
<line x1="399.6" y1="47.5" x2="414.1" y2="47.5" stroke="#262626" stroke-width="0.7"/>
<polygon points="399.6,47.5 403.6,46.7 403.6,48.3" fill="#1c1c1c"/>
<polygon points="414.1,47.5 410.1,48.3 410.1,46.7" fill="#1c1c1c"/>
<text x="406.85" y="46.3" font-size="6.3" fill="#1a1a1a" stroke="#1a1a1a" stroke-width="0.08" textLength="8.2" lengthAdjust="spacingAndGlyphs" text-anchor="middle" font-style="italic">108</text>
<line x1="403.6" y1="100" x2="403.6" y2="121.4" stroke="#262626" stroke-width="0.7"/>
<line x1="424.6" y1="100" x2="424.6" y2="121.4" stroke="#262626" stroke-width="0.7"/>
<line x1="403.6" y1="120.3" x2="424.6" y2="120.3" stroke="#262626" stroke-width="0.7"/>
<polygon points="403.6,120.3 407.6,119.5 407.6,121.1" fill="#1c1c1c"/>
<polygon points="424.6,120.3 420.6,121.1 420.6,119.5" fill="#1c1c1c"/>
<text x="414.1" y="118.9" font-size="6.6" fill="#1a1a1a" stroke="#1a1a1a" stroke-width="0.08" textLength="8.8" lengthAdjust="spacingAndGlyphs" text-anchor="middle" font-style="italic">155</text>
<line x1="396.5" y1="131.5" x2="431.5" y2="131.5" stroke="#262626" stroke-width="0.7"/>
<polygon points="396.5,131.5 400.5,130.7 400.5,132.3" fill="#1c1c1c"/>
<polygon points="431.5,131.5 427.5,132.3 427.5,130.7" fill="#1c1c1c"/>
<text x="414" y="130.1" font-size="6.6" fill="#1a1a1a" stroke="#1a1a1a" stroke-width="0.08" textLength="10.4" lengthAdjust="spacingAndGlyphs" text-anchor="middle" font-style="italic">255</text>
<line x1="356.5" y1="106.4" x2="356.5" y2="144.2" stroke="#262626" stroke-width="0.7"/>
<line x1="391.5" y1="106.4" x2="391.5" y2="132.6" stroke="#262626" stroke-width="0.7"/>
<line x1="396.5" y1="106.4" x2="396.5" y2="132.6" stroke="#262626" stroke-width="0.7"/>
<line x1="431.5" y1="106.4" x2="431.5" y2="144.2" stroke="#262626" stroke-width="0.7"/>
<line x1="356.5" y1="143.1" x2="431.5" y2="143.1" stroke="#262626" stroke-width="0.7"/>
<polygon points="356.5,143.1 360.5,142.3 360.5,143.9" fill="#1c1c1c"/>
<polygon points="431.5,143.1 427.5,143.9 427.5,142.3" fill="#1c1c1c"/>
<text x="394.7" y="141.8" font-size="6.6" fill="#1a1a1a" stroke="#1a1a1a" stroke-width="0.08" textLength="10.6" lengthAdjust="spacingAndGlyphs" text-anchor="middle" font-style="italic">550</text>
<line x1="349" y1="57.1" x2="359.6" y2="57.1" stroke="#262626" stroke-width="0.7"/>
<line x1="349" y1="103.9" x2="359.6" y2="103.9" stroke="#262626" stroke-width="0.7"/>
<line x1="350.3" y1="57.1" x2="350.3" y2="103.9" stroke="#262626" stroke-width="0.7"/>
<polygon points="350.3,57.1 351.1,61.1 349.5,61.1" fill="#1c1c1c"/>
<polygon points="350.3,103.9 349.5,99.9 351.1,99.9" fill="#1c1c1c"/>
<text x="0" y="0" font-size="6.6" fill="#1a1a1a" stroke="#1a1a1a" stroke-width="0.08" textLength="10.5" lengthAdjust="spacingAndGlyphs" text-anchor="middle" font-style="italic" transform="translate(349.2 80.5) rotate(-90)">350</text>
<line x1="424.6" y1="61" x2="446" y2="61" stroke="#262626" stroke-width="0.7"/>
<line x1="424.6" y1="100" x2="446" y2="100" stroke="#262626" stroke-width="0.7"/>
<line x1="444.8" y1="61" x2="444.8" y2="100" stroke="#262626" stroke-width="0.7"/>
<polygon points="444.8,61 445.6,65 444,65" fill="#1c1c1c"/>
<polygon points="444.8,100 444,96 445.6,96" fill="#1c1c1c"/>
<text x="0" y="0" font-size="6.6" fill="#1a1a1a" stroke="#1a1a1a" stroke-width="0.08" textLength="10.5" lengthAdjust="spacingAndGlyphs" text-anchor="middle" font-style="italic" transform="translate(443.6 80.5) rotate(-90)">290</text>
<line x1="431.5" y1="54.4" x2="457.8" y2="54.4" stroke="#262626" stroke-width="0.7"/>
<line x1="431.5" y1="106.4" x2="457.8" y2="106.4" stroke="#262626" stroke-width="0.7"/>
<line x1="456.6" y1="54.4" x2="456.6" y2="106.4" stroke="#262626" stroke-width="0.7"/>
<polygon points="456.6,54.4 457.4,58.4 455.8,58.4" fill="#1c1c1c"/>
<polygon points="456.6,106.4 455.8,102.4 457.4,102.4" fill="#1c1c1c"/>
<text x="0" y="0" font-size="6.6" fill="#1a1a1a" stroke="#1a1a1a" stroke-width="0.08" textLength="10.5" lengthAdjust="spacingAndGlyphs" text-anchor="middle" font-style="italic" transform="translate(455.4 80.5) rotate(-90)">390</text>
<path d="M424.4 63 L436.9 43.1 L478.3 43.1" fill="none" stroke="#262626" stroke-width="0.7" stroke-linejoin="round"/>
<polygon points="428.9,56 430.34,52.18 431.7,53.03" fill="#1c1c1c"/>
<text x="443.8" y="40.8" font-size="6.2" fill="#1a1a1a" stroke="#1a1a1a" stroke-width="0.08" textLength="33.8" lengthAdjust="spacingAndGlyphs" font-style="italic">12 отв. Ø14</text>
</g>
<g id="viewB">
<text x="368" y="182.6" font-size="8.2" fill="#1a1a1a" textLength="32" lengthAdjust="spacingAndGlyphs" font-style="italic">Б ( 1:10 )</text>
<circle cx="383.6" cy="235.4" r="35.4" fill="none" stroke="#1c1c1c" stroke-width="1.3"/>
<circle cx="383.6" cy="235.4" r="28.8" fill="none" stroke="#1c1c1c" stroke-width="1.8"/>
<circle cx="383.6" cy="235.4" r="32.7" fill="none" stroke="#1c1c1c" stroke-width="0.7" stroke-dasharray="5 1.2 1.2 1.2"/>
<line x1="383.6" y1="195" x2="383.6" y2="275.5" stroke="#262626" stroke-width="0.5" stroke-dasharray="7 1.2 1.2 1.2"/>
<line x1="345.5" y1="235.4" x2="421.5" y2="235.4" stroke="#262626" stroke-width="0.5" stroke-dasharray="7 1.2 1.2 1.2"/>
<circle cx="393.7" cy="204.3" r="1.4" fill="#1c1c1c"/>
<line x1="392.9" y1="206.77" x2="394.51" y2="201.83" stroke="#444" stroke-width="0.6"/>
<circle cx="410.05" cy="216.18" r="1.4" fill="#1c1c1c"/>
<line x1="407.95" y1="217.71" x2="412.16" y2="214.65" stroke="#444" stroke-width="0.6"/>
<circle cx="416.3" cy="235.4" r="1.4" fill="#1c1c1c"/>
<line x1="413.7" y1="235.4" x2="418.9" y2="235.4" stroke="#444" stroke-width="0.6"/>
<circle cx="410.05" cy="254.62" r="1.4" fill="#1c1c1c"/>
<line x1="407.95" y1="253.09" x2="412.16" y2="256.15" stroke="#444" stroke-width="0.6"/>
<circle cx="393.7" cy="266.5" r="1.4" fill="#1c1c1c"/>
<line x1="392.9" y1="264.03" x2="394.51" y2="268.97" stroke="#444" stroke-width="0.6"/>
<circle cx="373.5" cy="266.5" r="1.4" fill="#1c1c1c"/>
<line x1="374.3" y1="264.03" x2="372.69" y2="268.97" stroke="#444" stroke-width="0.6"/>
<circle cx="357.15" cy="254.62" r="1.4" fill="#1c1c1c"/>
<line x1="359.25" y1="253.09" x2="355.04" y2="256.15" stroke="#444" stroke-width="0.6"/>
<circle cx="350.9" cy="235.4" r="1.4" fill="#1c1c1c"/>
<line x1="353.5" y1="235.4" x2="348.3" y2="235.4" stroke="#444" stroke-width="0.6"/>
<circle cx="357.15" cy="216.18" r="1.4" fill="#1c1c1c"/>
<line x1="359.25" y1="217.71" x2="355.04" y2="214.65" stroke="#444" stroke-width="0.6"/>
<circle cx="373.5" cy="204.3" r="1.4" fill="#1c1c1c"/>
<line x1="374.3" y1="206.77" x2="372.69" y2="201.83" stroke="#444" stroke-width="0.6"/>
<path d="M337 208.4 L358 208.4 L406.1 259.14" fill="none" stroke="#262626" stroke-width="0.7" stroke-linejoin="round"/>
<polygon points="361.1,211.66 364.43,214.01 363.27,215.11" fill="#1c1c1c"/>
<polygon points="406.1,259.14 402.77,256.79 403.93,255.69" fill="#1c1c1c"/>
<text x="337.4" y="206.6" font-size="6.4" fill="#1a1a1a" stroke="#1a1a1a" stroke-width="0.08" textLength="17.6" lengthAdjust="spacingAndGlyphs" font-style="italic">Ø485</text>
<path d="M325.5 250.2 L350.8 250.2 L409.87 223.56" fill="none" stroke="#262626" stroke-width="0.7" stroke-linejoin="round"/>
<polygon points="357.33,247.24 360.65,244.86 361.31,246.32" fill="#1c1c1c"/>
<polygon points="409.87,223.56 406.55,225.94 405.89,224.48" fill="#1c1c1c"/>
<text x="327.2" y="248.4" font-size="6.4" fill="#1a1a1a" stroke="#1a1a1a" stroke-width="0.08" textLength="16.8" lengthAdjust="spacingAndGlyphs" font-style="italic">Ø425</text>
<path d="M348.84 228.78 L418.36 242.02 L418.6 242.6 L446.4 242.6" fill="none" stroke="#262626" stroke-width="0.7" stroke-linejoin="round"/>
<polygon points="348.84,228.78 352.92,228.74 352.62,230.31" fill="#1c1c1c"/>
<polygon points="418.36,242.02 414.28,242.06 414.58,240.49" fill="#1c1c1c"/>
<text x="428.8" y="240.8" font-size="6.4" fill="#1a1a1a" stroke="#1a1a1a" stroke-width="0.08" textLength="16.4" lengthAdjust="spacingAndGlyphs" font-style="italic">Ø525</text>
<path d="M409.2 218.2 L414.2 204.4 L456.6 204.4" fill="none" stroke="#262626" stroke-width="0.7" stroke-linejoin="round"/>
<polygon points="410.3,215.4 410.92,211.37 412.42,211.91" fill="#1c1c1c"/>
<text x="422.3" y="202" font-size="6.2" fill="#1a1a1a" stroke="#1a1a1a" stroke-width="0.08" textLength="33.5" lengthAdjust="spacingAndGlyphs" font-style="italic">10 отв. Ø14</text>
</g>
<g id="plan">
<rect x="100" y="307.5" width="7" height="7" fill="none" stroke="#1c1c1c" stroke-width="1.5"/>
<circle cx="101.6" cy="309.1" r="0.9" fill="#1c1c1c"/>
<circle cx="101.6" cy="312.9" r="0.9" fill="#1c1c1c"/>
<circle cx="105.4" cy="309.1" r="0.9" fill="#1c1c1c"/>
<circle cx="105.4" cy="312.9" r="0.9" fill="#1c1c1c"/>
<line x1="98.1" y1="311" x2="108.9" y2="311" stroke="#444" stroke-width="0.5"/>
<line x1="103.5" y1="305.6" x2="103.5" y2="316.4" stroke="#444" stroke-width="0.5"/>
<rect x="100" y="352.8" width="7" height="7" fill="none" stroke="#1c1c1c" stroke-width="1.5"/>
<circle cx="101.6" cy="354.4" r="0.9" fill="#1c1c1c"/>
<circle cx="101.6" cy="358.2" r="0.9" fill="#1c1c1c"/>
<circle cx="105.4" cy="354.4" r="0.9" fill="#1c1c1c"/>
<circle cx="105.4" cy="358.2" r="0.9" fill="#1c1c1c"/>
<line x1="98.1" y1="356.3" x2="108.9" y2="356.3" stroke="#444" stroke-width="0.5"/>
<line x1="103.5" y1="350.9" x2="103.5" y2="361.7" stroke="#444" stroke-width="0.5"/>
<rect x="120.7" y="307.5" width="7" height="7" fill="none" stroke="#1c1c1c" stroke-width="1.5"/>
<circle cx="122.3" cy="309.1" r="0.9" fill="#1c1c1c"/>
<circle cx="122.3" cy="312.9" r="0.9" fill="#1c1c1c"/>
<circle cx="126.1" cy="309.1" r="0.9" fill="#1c1c1c"/>
<circle cx="126.1" cy="312.9" r="0.9" fill="#1c1c1c"/>
<line x1="118.8" y1="311" x2="129.6" y2="311" stroke="#444" stroke-width="0.5"/>
<line x1="124.2" y1="305.6" x2="124.2" y2="316.4" stroke="#444" stroke-width="0.5"/>
<rect x="120.7" y="352.8" width="7" height="7" fill="none" stroke="#1c1c1c" stroke-width="1.5"/>
<circle cx="122.3" cy="354.4" r="0.9" fill="#1c1c1c"/>
<circle cx="122.3" cy="358.2" r="0.9" fill="#1c1c1c"/>
<circle cx="126.1" cy="354.4" r="0.9" fill="#1c1c1c"/>
<circle cx="126.1" cy="358.2" r="0.9" fill="#1c1c1c"/>
<line x1="118.8" y1="356.3" x2="129.6" y2="356.3" stroke="#444" stroke-width="0.5"/>
<line x1="124.2" y1="350.9" x2="124.2" y2="361.7" stroke="#444" stroke-width="0.5"/>
<line x1="106.9" y1="311" x2="120.8" y2="311" stroke="#1c1c1c" stroke-width="1.3"/>
<line x1="106.9" y1="356.3" x2="120.8" y2="356.3" stroke="#1c1c1c" stroke-width="1.3"/>
<line x1="102.9" y1="314.4" x2="102.9" y2="352.9" stroke="#1c1c1c" stroke-width="1"/>
<line x1="124.8" y1="314.4" x2="124.8" y2="352.9" stroke="#1c1c1c" stroke-width="1"/>
<line x1="104.3" y1="314.4" x2="104.3" y2="352.9" stroke="#262626" stroke-width="0.7"/>
<line x1="123.4" y1="314.4" x2="123.4" y2="352.9" stroke="#262626" stroke-width="0.7"/>
<line x1="104.7" y1="314.4" x2="109.9" y2="325.2" stroke="#1c1c1c" stroke-width="1.35"/>
<line x1="104.7" y1="353.2" x2="109.9" y2="342.4" stroke="#1c1c1c" stroke-width="1.35"/>
<line x1="123.1" y1="314.4" x2="117.9" y2="325.2" stroke="#1c1c1c" stroke-width="1.35"/>
<line x1="123.1" y1="353.2" x2="117.9" y2="342.4" stroke="#1c1c1c" stroke-width="1.35"/>
<circle cx="113.9" cy="333.8" r="7.9" fill="none" stroke="#1c1c1c" stroke-width="2.2"/>
<line x1="117.87" y1="335.45" x2="119.26" y2="336.02" stroke="#444" stroke-width="0.5"/>
<line x1="115.55" y1="337.77" x2="116.12" y2="339.16" stroke="#444" stroke-width="0.5"/>
<line x1="112.25" y1="337.77" x2="111.68" y2="339.16" stroke="#444" stroke-width="0.5"/>
<line x1="109.93" y1="335.45" x2="108.54" y2="336.02" stroke="#444" stroke-width="0.5"/>
<line x1="109.93" y1="332.15" x2="108.54" y2="331.58" stroke="#444" stroke-width="0.5"/>
<line x1="112.25" y1="329.83" x2="111.68" y2="328.44" stroke="#444" stroke-width="0.5"/>
<line x1="115.55" y1="329.83" x2="116.12" y2="328.44" stroke="#444" stroke-width="0.5"/>
<line x1="117.87" y1="332.15" x2="119.26" y2="331.58" stroke="#444" stroke-width="0.5"/>
<line x1="101.9" y1="333.8" x2="125.9" y2="333.8" stroke="#1c1c1c" stroke-width="0.5"/>
<line x1="113.9" y1="321.8" x2="113.9" y2="345.8" stroke="#1c1c1c" stroke-width="0.5" stroke-dasharray="4 1 1 1"/>
<rect x="101.2" y="325.6" width="1.7" height="16.7" fill="none" stroke="#1c1c1c" stroke-width="0.8"/>
<line x1="101.2" y1="326.8" x2="102.9" y2="326.8" stroke="#1c1c1c" stroke-width="0.45"/>
<line x1="101.2" y1="328.6" x2="102.9" y2="328.6" stroke="#1c1c1c" stroke-width="0.45"/>
<line x1="101.2" y1="330.4" x2="102.9" y2="330.4" stroke="#1c1c1c" stroke-width="0.45"/>
<line x1="101.2" y1="332.2" x2="102.9" y2="332.2" stroke="#1c1c1c" stroke-width="0.45"/>
<line x1="101.2" y1="334" x2="102.9" y2="334" stroke="#1c1c1c" stroke-width="0.45"/>
<line x1="101.2" y1="335.8" x2="102.9" y2="335.8" stroke="#1c1c1c" stroke-width="0.45"/>
<line x1="101.2" y1="337.6" x2="102.9" y2="337.6" stroke="#1c1c1c" stroke-width="0.45"/>
<line x1="101.2" y1="339.4" x2="102.9" y2="339.4" stroke="#1c1c1c" stroke-width="0.45"/>
<line x1="101.2" y1="341.2" x2="102.9" y2="341.2" stroke="#1c1c1c" stroke-width="0.45"/>
<line x1="80.8" y1="307.6" x2="100" y2="307.6" stroke="#262626" stroke-width="0.7"/>
<line x1="80.8" y1="359.8" x2="100" y2="359.8" stroke="#262626" stroke-width="0.7"/>
<line x1="82.4" y1="307.6" x2="82.4" y2="359.8" stroke="#262626" stroke-width="0.7"/>
<polygon points="82.4,307.6 83.2,311.6 81.6,311.6" fill="#1c1c1c"/>
<polygon points="82.4,359.8 81.6,355.8 83.2,355.8" fill="#1c1c1c"/>
<text x="0" y="0" font-size="6.8" fill="#1a1a1a" stroke="#1a1a1a" stroke-width="0.08" textLength="12.6" lengthAdjust="spacingAndGlyphs" text-anchor="middle" font-style="italic" transform="translate(81.3 333.5) rotate(-90)">1546</text>
<line x1="91" y1="311" x2="100" y2="311" stroke="#262626" stroke-width="0.7"/>
<line x1="91" y1="356.3" x2="100" y2="356.3" stroke="#262626" stroke-width="0.7"/>
<line x1="92.4" y1="311" x2="92.4" y2="356.3" stroke="#262626" stroke-width="0.7"/>
<polygon points="92.4,311 93.2,315 91.6,315" fill="#1c1c1c"/>
<polygon points="92.4,356.3 91.6,352.3 93.2,352.3" fill="#1c1c1c"/>
<text x="0" y="0" font-size="6.8" fill="#1a1a1a" stroke="#1a1a1a" stroke-width="0.08" textLength="12.6" lengthAdjust="spacingAndGlyphs" text-anchor="middle" font-style="italic" transform="translate(91.3 333.5) rotate(-90)">1346</text>
<line x1="103.5" y1="359.8" x2="103.5" y2="370.6" stroke="#262626" stroke-width="0.7"/>
<line x1="124.2" y1="359.8" x2="124.2" y2="370.6" stroke="#262626" stroke-width="0.7"/>
<line x1="103.5" y1="369.5" x2="124.2" y2="369.5" stroke="#262626" stroke-width="0.7"/>
<polygon points="103.5,369.5 107.5,368.7 107.5,370.3" fill="#1c1c1c"/>
<polygon points="124.2,369.5 120.2,370.3 120.2,368.7" fill="#1c1c1c"/>
<text x="113.85" y="368.1" font-size="6.8" fill="#1a1a1a" stroke="#1a1a1a" stroke-width="0.08" textLength="9.6" lengthAdjust="spacingAndGlyphs" text-anchor="middle" font-style="italic">606</text>
<line x1="100" y1="359.8" x2="100" y2="381.6" stroke="#262626" stroke-width="0.7"/>
<line x1="127.4" y1="359.8" x2="127.4" y2="381.6" stroke="#262626" stroke-width="0.7"/>
<line x1="100" y1="380.4" x2="127.4" y2="380.4" stroke="#262626" stroke-width="0.7"/>
<polygon points="100,380.4 104,379.6 104,381.2" fill="#1c1c1c"/>
<polygon points="127.4,380.4 123.4,381.2 123.4,379.6" fill="#1c1c1c"/>
<text x="113.7" y="379" font-size="6.8" fill="#1a1a1a" stroke="#1a1a1a" stroke-width="0.08" textLength="9.6" lengthAdjust="spacingAndGlyphs" text-anchor="middle" font-style="italic">806</text>
<line x1="120.6" y1="287.4" x2="120.6" y2="307.6" stroke="#262626" stroke-width="0.7"/>
<line x1="127.4" y1="287.4" x2="127.4" y2="307.6" stroke="#262626" stroke-width="0.7"/>
<line x1="108.3" y1="288.7" x2="136.7" y2="288.7" stroke="#262626" stroke-width="0.7"/>
<polygon points="120.7,288.7 116.7,289.5 116.7,287.9" fill="#1c1c1c"/>
<polygon points="127.3,288.7 131.3,287.9 131.3,289.5" fill="#1c1c1c"/>
<text x="115" y="287.3" font-size="6.8" fill="#1a1a1a" stroke="#1a1a1a" stroke-width="0.08" textLength="9.8" lengthAdjust="spacingAndGlyphs" text-anchor="middle" font-style="italic">200</text>
<line x1="121.4" y1="295.8" x2="121.4" y2="309" stroke="#262626" stroke-width="0.7"/>
<line x1="126.6" y1="295.8" x2="126.6" y2="309" stroke="#262626" stroke-width="0.7"/>
<line x1="108.3" y1="297.1" x2="135.4" y2="297.1" stroke="#262626" stroke-width="0.7"/>
<polygon points="121.4,297.1 117.4,297.9 117.4,296.3" fill="#1c1c1c"/>
<polygon points="126.6,297.1 130.6,296.3 130.6,297.9" fill="#1c1c1c"/>
<text x="115" y="295.4" font-size="6.8" fill="#1a1a1a" stroke="#1a1a1a" stroke-width="0.08" textLength="9.8" lengthAdjust="spacingAndGlyphs" text-anchor="middle" font-style="italic">140</text>
<path d="M126.6 309.4 L137 299.6 L178.2 299.6" fill="none" stroke="#262626" stroke-width="0.7" stroke-linejoin="round"/>
<text x="144" y="297.5" font-size="6.4" fill="#1a1a1a" stroke="#1a1a1a" stroke-width="0.08" textLength="33" lengthAdjust="spacingAndGlyphs" font-style="italic">12 отв. Ø18</text>
<line x1="127.4" y1="307.6" x2="151" y2="307.6" stroke="#262626" stroke-width="0.7"/>
<line x1="127.4" y1="314.4" x2="151" y2="314.4" stroke="#262626" stroke-width="0.7"/>
<line x1="126" y1="309" x2="141.4" y2="309" stroke="#262626" stroke-width="0.7"/>
<line x1="126" y1="313" x2="141.4" y2="313" stroke="#262626" stroke-width="0.7"/>
<line x1="140.2" y1="299.6" x2="140.2" y2="329.4" stroke="#262626" stroke-width="0.7"/>
<polygon points="140.2,309 139.4,305 141,305" fill="#1c1c1c"/>
<polygon points="140.2,313 141,317 139.4,317" fill="#1c1c1c"/>
<line x1="149.6" y1="299.6" x2="149.6" y2="329.4" stroke="#262626" stroke-width="0.7"/>
<polygon points="149.6,307.6 148.8,303.6 150.4,303.6" fill="#1c1c1c"/>
<polygon points="149.6,314.4 150.4,318.4 148.8,318.4" fill="#1c1c1c"/>
<text x="0" y="0" font-size="6.8" fill="#1a1a1a" stroke="#1a1a1a" stroke-width="0.08" textLength="9.4" lengthAdjust="spacingAndGlyphs" text-anchor="middle" font-style="italic" transform="translate(139 323.5) rotate(-90)">140</text>
<text x="0" y="0" font-size="6.8" fill="#1a1a1a" stroke="#1a1a1a" stroke-width="0.08" textLength="9.4" lengthAdjust="spacingAndGlyphs" text-anchor="middle" font-style="italic" transform="translate(148.4 323.5) rotate(-90)">200</text>
</g>
<g id="viewV">
<text x="224.5" y="309.6" font-size="8.2" fill="#1a1a1a" textLength="32.4" lengthAdjust="spacingAndGlyphs" font-style="italic">В ( 1:10 )</text>
<rect x="220.8" y="326.3" width="41.2" height="40.7" fill="none" stroke="#1c1c1c" stroke-width="1.15"/>
<rect x="227.6" y="333" width="27.4" height="27.2" fill="none" stroke="#1c1c1c" stroke-width="1.15"/>
<line x1="221.1" y1="329.6" x2="227.5" y2="329.6" stroke="#555" stroke-width="0.6"/>
<line x1="224.3" y1="326.4" x2="224.3" y2="332.8" stroke="#555" stroke-width="0.6"/>
<circle cx="224.3" cy="329.6" r="1.4" fill="#1c1c1c"/>
<line x1="221.1" y1="346.6" x2="227.5" y2="346.6" stroke="#555" stroke-width="0.6"/>
<line x1="224.3" y1="343.4" x2="224.3" y2="349.8" stroke="#555" stroke-width="0.6"/>
<circle cx="224.3" cy="346.6" r="1.4" fill="#1c1c1c"/>
<line x1="221.1" y1="363.7" x2="227.5" y2="363.7" stroke="#555" stroke-width="0.6"/>
<line x1="224.3" y1="360.5" x2="224.3" y2="366.9" stroke="#555" stroke-width="0.6"/>
<circle cx="224.3" cy="363.7" r="1.4" fill="#1c1c1c"/>
<line x1="238.2" y1="329.6" x2="244.6" y2="329.6" stroke="#555" stroke-width="0.6"/>
<line x1="241.4" y1="326.4" x2="241.4" y2="332.8" stroke="#555" stroke-width="0.6"/>
<circle cx="241.4" cy="329.6" r="1.4" fill="#1c1c1c"/>
<line x1="238.2" y1="363.7" x2="244.6" y2="363.7" stroke="#555" stroke-width="0.6"/>
<line x1="241.4" y1="360.5" x2="241.4" y2="366.9" stroke="#555" stroke-width="0.6"/>
<circle cx="241.4" cy="363.7" r="1.4" fill="#1c1c1c"/>
<line x1="255.3" y1="329.6" x2="261.7" y2="329.6" stroke="#555" stroke-width="0.6"/>
<line x1="258.5" y1="326.4" x2="258.5" y2="332.8" stroke="#555" stroke-width="0.6"/>
<circle cx="258.5" cy="329.6" r="1.4" fill="#1c1c1c"/>
<line x1="255.3" y1="346.6" x2="261.7" y2="346.6" stroke="#555" stroke-width="0.6"/>
<line x1="258.5" y1="343.4" x2="258.5" y2="349.8" stroke="#555" stroke-width="0.6"/>
<circle cx="258.5" cy="346.6" r="1.4" fill="#1c1c1c"/>
<line x1="255.3" y1="363.7" x2="261.7" y2="363.7" stroke="#555" stroke-width="0.6"/>
<line x1="258.5" y1="360.5" x2="258.5" y2="366.9" stroke="#555" stroke-width="0.6"/>
<circle cx="258.5" cy="363.7" r="1.4" fill="#1c1c1c"/>
<path d="M253.4 336.2 L263.8 316.4 L306 316.4" fill="none" stroke="#262626" stroke-width="0.7" stroke-linejoin="round"/>
<polygon points="257.6,328.2 258.77,324.29 260.18,325.04" fill="#1c1c1c"/>
<text x="271" y="314" font-size="6.2" fill="#1a1a1a" stroke="#1a1a1a" stroke-width="0.08" textLength="33.5" lengthAdjust="spacingAndGlyphs" font-style="italic">8 отв.  Ø14</text>
<line x1="199.6" y1="329.6" x2="224.3" y2="329.6" stroke="#262626" stroke-width="0.7"/>
<line x1="199.6" y1="363.7" x2="224.3" y2="363.7" stroke="#262626" stroke-width="0.7"/>
<line x1="211.4" y1="346.6" x2="224.3" y2="346.6" stroke="#262626" stroke-width="0.7"/>
<line x1="200.8" y1="329.6" x2="200.8" y2="363.7" stroke="#262626" stroke-width="0.7"/>
<polygon points="200.8,329.6 201.6,333.6 200,333.6" fill="#1c1c1c"/>
<polygon points="200.8,363.7 200,359.7 201.6,359.7" fill="#1c1c1c"/>
<text x="0" y="0" font-size="6.2" fill="#1a1a1a" stroke="#1a1a1a" stroke-width="0.08" textLength="30.6" lengthAdjust="spacingAndGlyphs" text-anchor="middle" font-style="italic" transform="translate(199 345.4) rotate(-90)">2x125=250</text>
<line x1="212.6" y1="329.6" x2="212.6" y2="346.6" stroke="#262626" stroke-width="0.7"/>
<polygon points="212.6,329.6 213.4,333.6 211.8,333.6" fill="#1c1c1c"/>
<polygon points="212.6,346.6 211.8,342.6 213.4,342.6" fill="#1c1c1c"/>
<text x="0" y="0" font-size="6.4" fill="#1a1a1a" stroke="#1a1a1a" stroke-width="0.08" textLength="9" lengthAdjust="spacingAndGlyphs" text-anchor="middle" font-style="italic" transform="translate(211.4 338) rotate(-90)">125</text>
<line x1="255" y1="333" x2="278.2" y2="333" stroke="#262626" stroke-width="0.7"/>
<line x1="255" y1="360.2" x2="278.2" y2="360.2" stroke="#262626" stroke-width="0.7"/>
<line x1="276.8" y1="333" x2="276.8" y2="360.2" stroke="#262626" stroke-width="0.7"/>
<polygon points="276.8,333 277.6,337 276,337" fill="#1c1c1c"/>
<polygon points="276.8,360.2 276,356.2 277.6,356.2" fill="#1c1c1c"/>
<text x="0" y="0" font-size="6.4" fill="#1a1a1a" stroke="#1a1a1a" stroke-width="0.08" textLength="10.3" lengthAdjust="spacingAndGlyphs" text-anchor="middle" font-style="italic" transform="translate(275.4 342.8) rotate(-90)">200</text>
<text x="0" y="0" font-size="7.6" fill="#1a1a1a" stroke="#1a1a1a" stroke-width="0.35" transform="translate(275.7 353.9) rotate(-90)">□</text>
<line x1="262" y1="326.3" x2="291.8" y2="326.3" stroke="#262626" stroke-width="0.7"/>
<line x1="262" y1="367" x2="291.8" y2="367" stroke="#262626" stroke-width="0.7"/>
<line x1="290.6" y1="326.3" x2="290.6" y2="367" stroke="#262626" stroke-width="0.7"/>
<polygon points="290.6,326.3 291.4,330.3 289.8,330.3" fill="#1c1c1c"/>
<polygon points="290.6,367 289.8,363 291.4,363" fill="#1c1c1c"/>
<text x="0" y="0" font-size="6.4" fill="#1a1a1a" stroke="#1a1a1a" stroke-width="0.08" textLength="10.3" lengthAdjust="spacingAndGlyphs" text-anchor="middle" font-style="italic" transform="translate(289.2 342.8) rotate(-90)">300</text>
<text x="0" y="0" font-size="7.6" fill="#1a1a1a" stroke="#1a1a1a" stroke-width="0.35" transform="translate(289.5 353.9) rotate(-90)">□</text>
<line x1="224.3" y1="363.7" x2="224.3" y2="388.2" stroke="#262626" stroke-width="0.7"/>
<line x1="241.4" y1="363.7" x2="241.4" y2="378.2" stroke="#262626" stroke-width="0.7"/>
<line x1="258.5" y1="363.7" x2="258.5" y2="388.2" stroke="#262626" stroke-width="0.7"/>
<line x1="224.3" y1="377" x2="241.4" y2="377" stroke="#262626" stroke-width="0.7"/>
<polygon points="224.3,377 228.3,376.2 228.3,377.8" fill="#1c1c1c"/>
<polygon points="241.4,377 237.4,377.8 237.4,376.2" fill="#1c1c1c"/>
<text x="233.6" y="375.7" font-size="6.4" fill="#1a1a1a" stroke="#1a1a1a" stroke-width="0.08" textLength="9" lengthAdjust="spacingAndGlyphs" text-anchor="middle" font-style="italic">125</text>
<line x1="224.3" y1="387" x2="258.5" y2="387" stroke="#262626" stroke-width="0.7"/>
<polygon points="224.3,387 228.3,386.2 228.3,387.8" fill="#1c1c1c"/>
<polygon points="258.5,387 254.5,387.8 254.5,386.2" fill="#1c1c1c"/>
<text x="241.8" y="385.7" font-size="6.4" fill="#1a1a1a" stroke="#1a1a1a" stroke-width="0.08" textLength="28.6" lengthAdjust="spacingAndGlyphs" text-anchor="middle" font-style="italic">2x125=250</text>
</g>
<g id="iso">
<line x1="514.2" y1="118.5" x2="514.2" y2="150.5" stroke="#1c1c1c" stroke-width="1.15"/>
<path d="M514.2 118.8 Q514.4 114.6 519.6 113" fill="none" stroke="#1c1c1c" stroke-width="1.15"/>
<line x1="532.5" y1="135" x2="532.5" y2="161.5" stroke="#1c1c1c" stroke-width="1.15"/>
<path d="M514.2 150.3 A9.2 4.6 0 0 0 532.5 153.2" fill="none" stroke="#1c1c1c" stroke-width="1.15"/>
<line x1="553.4" y1="127" x2="553.4" y2="160.8" stroke="#1c1c1c" stroke-width="1.15"/>
<path d="M532.5 160.6 A10.45 5.2 0 0 0 553.4 160.6" fill="none" stroke="#1c1c1c" stroke-width="1.15"/>
<path d="M532.5 133.4 Q536.5 137.4 544.5 136.4 Q552.4 134.6 553.4 127.4" fill="none" stroke="#1c1c1c" stroke-width="1.15"/>
<path d="M553.4 127.6 Q553.4 123.6 549.6 121.6" fill="none" stroke="#1c1c1c" stroke-width="1.15"/>
<path d="M536 121 L536 128.6 Q537 133 543.2 133 Q550 132.8 550.6 127 L550.6 121" fill="none" stroke="#1c1c1c" stroke-width="1.15"/>
<line x1="515" y1="151.6" x2="520.2" y2="178.6" stroke="#1c1c1c" stroke-width="1.15"/>
<line x1="524.6" y1="154.8" x2="524.6" y2="180" stroke="#1c1c1c" stroke-width="1.15"/>
<line x1="532.3" y1="154" x2="529.9" y2="178.8" stroke="#1c1c1c" stroke-width="1.15"/>
<line x1="533.6" y1="163" x2="537.6" y2="189" stroke="#1c1c1c" stroke-width="1.15"/>
<line x1="552.6" y1="162.2" x2="547.8" y2="189" stroke="#1c1c1c" stroke-width="1.15"/>
<path d="M518.2 119.4 L523.8 122.2 L523.8 131.6 L518.2 128.9 Z" fill="none" stroke="#1c1c1c" stroke-width="1.7" stroke-linejoin="round"/>
<path d="M520.1 122.2 L522.2 123.3 L522.2 128.9 L520.1 127.8 Z" fill="none" stroke="#1c1c1c" stroke-width="0.8" stroke-linejoin="round"/>
<path d="M524.8 122.6 L531.4 126 L531.4 135.8 L524.8 132.6 Z" fill="none" stroke="#1c1c1c" stroke-width="1.7" stroke-linejoin="round"/>
<path d="M526.9 125.6 L529.3 126.9 L529.3 133 L526.9 131.8 Z" fill="none" stroke="#1c1c1c" stroke-width="0.8" stroke-linejoin="round"/>
<line x1="518.2" y1="121" x2="520.1" y2="122" stroke="#1c1c1c" stroke-width="0.5"/>
<line x1="522.2" y1="123.6" x2="523.8" y2="124.4" stroke="#1c1c1c" stroke-width="0.5"/>
<line x1="524.8" y1="124.4" x2="526.9" y2="125.4" stroke="#1c1c1c" stroke-width="0.5"/>
<line x1="529.3" y1="127.4" x2="531.4" y2="128.4" stroke="#1c1c1c" stroke-width="0.5"/>
<line x1="518.2" y1="122.8" x2="520.1" y2="123.8" stroke="#1c1c1c" stroke-width="0.5"/>
<line x1="522.2" y1="125.4" x2="523.8" y2="126.2" stroke="#1c1c1c" stroke-width="0.5"/>
<line x1="524.8" y1="126.2" x2="526.9" y2="127.2" stroke="#1c1c1c" stroke-width="0.5"/>
<line x1="529.3" y1="129.2" x2="531.4" y2="130.2" stroke="#1c1c1c" stroke-width="0.5"/>
<line x1="518.2" y1="124.6" x2="520.1" y2="125.6" stroke="#1c1c1c" stroke-width="0.5"/>
<line x1="522.2" y1="127.2" x2="523.8" y2="128" stroke="#1c1c1c" stroke-width="0.5"/>
<line x1="524.8" y1="128" x2="526.9" y2="129" stroke="#1c1c1c" stroke-width="0.5"/>
<line x1="529.3" y1="131" x2="531.4" y2="132" stroke="#1c1c1c" stroke-width="0.5"/>
<line x1="518.2" y1="126.4" x2="520.1" y2="127.4" stroke="#1c1c1c" stroke-width="0.5"/>
<line x1="522.2" y1="129" x2="523.8" y2="129.8" stroke="#1c1c1c" stroke-width="0.5"/>
<line x1="524.8" y1="129.8" x2="526.9" y2="130.8" stroke="#1c1c1c" stroke-width="0.5"/>
<line x1="529.3" y1="132.8" x2="531.4" y2="133.8" stroke="#1c1c1c" stroke-width="0.5"/>
<line x1="518.2" y1="128.2" x2="520.1" y2="129.2" stroke="#1c1c1c" stroke-width="0.5"/>
<line x1="522.2" y1="130.8" x2="523.8" y2="131.6" stroke="#1c1c1c" stroke-width="0.5"/>
<line x1="524.8" y1="131.6" x2="526.9" y2="132.6" stroke="#1c1c1c" stroke-width="0.5"/>
<line x1="529.3" y1="134.6" x2="531.4" y2="135.6" stroke="#1c1c1c" stroke-width="0.5"/>
<path d="M518.2 119.4 L521.4 117.2 L527.2 120 L523.8 122.2" fill="none" stroke="#1c1c1c" stroke-width="1.1" stroke-linejoin="round"/>
<path d="M524.8 122.6 L528.2 120.4 L534.4 123.6 L531.4 126" fill="none" stroke="#1c1c1c" stroke-width="1.1" stroke-linejoin="round"/>
<line x1="519.6" y1="118.4" x2="525.4" y2="121.2" stroke="#1c1c1c" stroke-width="0.9"/>
<line x1="526.4" y1="121.6" x2="532.8" y2="124.8" stroke="#1c1c1c" stroke-width="0.9"/>
<line x1="521.4" y1="117.2" x2="521.4" y2="114.4" stroke="#1c1c1c" stroke-width="0.9"/>
<line x1="528" y1="120.6" x2="528" y2="117.6" stroke="#1c1c1c" stroke-width="0.9"/>
<path d="M515.6 120.4 Q515.8 117 519.4 115.6" fill="none" stroke="#1c1c1c" stroke-width="0.8"/>
<path d="M515.6 107 L515.6 111.6 Q517 113.6 520.6 113.4" fill="none" stroke="#1c1c1c" stroke-width="1"/>
<line x1="515.4" y1="110.6" x2="521.6" y2="113.4" stroke="#1c1c1c" stroke-width="1.8"/>
<path d="M538.4 121.8 Q543.5 124.6 549.6 121.4" fill="none" stroke="#1c1c1c" stroke-width="2"/>
<line x1="538.6" y1="118.6" x2="538.6" y2="121.8" stroke="#1c1c1c" stroke-width="0.9"/>
<line x1="549.6" y1="117" x2="549.6" y2="121.4" stroke="#1c1c1c" stroke-width="0.9"/>
<path d="M510.5 96.5 L524.5 88 L526.6 89.2" fill="none" stroke="#1c1c1c" stroke-width="1.15" stroke-linejoin="round"/>
<path d="M542.6 97.6 L557 106.5 L557 113 L542.5 120.6 L510.5 103.5 L510.5 96.5 L542.5 114 L557 106.5" fill="none" stroke="#1c1c1c" stroke-width="1.15" stroke-linejoin="round"/>
<line x1="542.5" y1="114" x2="542.5" y2="120.6" stroke="#1c1c1c" stroke-width="1.15"/>
<path d="M510.5 96.5 L525 95.2 L524.5 88" fill="none" stroke="#1c1c1c" stroke-width="0.9" stroke-linejoin="round"/>
<path d="M542.5 114 L537 102.9 L542.6 97.7" fill="none" stroke="#1c1c1c" stroke-width="0.9" stroke-linejoin="round"/>
<path d="M526.2 93.4 L526.4 98.8 Q530.4 104 537.2 102.8" fill="none" stroke="#1c1c1c" stroke-width="1.15"/>
<ellipse cx="534.2" cy="92.9" rx="8" ry="4" fill="none" stroke="#1c1c1c" stroke-width="1.45"/>
<ellipse cx="532.8" cy="97.7" rx="5" ry="2.1" fill="none" stroke="#1c1c1c" stroke-width="0.85"/>
<path d="M519.4 175.6 L510 181 L510 187.6 L542.3 205 L557 197.6 L557 191.4 L542.3 198 L510 181" fill="none" stroke="#1c1c1c" stroke-width="1.15" stroke-linejoin="round"/>
<line x1="542.3" y1="198" x2="542.3" y2="205" stroke="#1c1c1c" stroke-width="1.15"/>
<line x1="557" y1="191.4" x2="549.2" y2="187.3" stroke="#1c1c1c" stroke-width="1.15"/>
<line x1="530.6" y1="176.6" x2="535.2" y2="179.6" stroke="#1c1c1c" stroke-width="1.15"/>
<ellipse cx="525" cy="180.8" rx="5.4" ry="2.5" fill="none" stroke="#1c1c1c" stroke-width="1.7"/>
<ellipse cx="542.6" cy="190.8" rx="5.4" ry="2.5" fill="none" stroke="#1c1c1c" stroke-width="1.7"/>
<path d="M505 189.2 L508.2 187.3 L511.4 189.2 L508.2 191.1 Z" fill="#1c1c1c" stroke="#1c1c1c" stroke-width="0.8" stroke-linejoin="round"/>
<path d="M539.1 207.2 L542.3 205.3 L545.5 207.2 L542.3 209.1 Z" fill="#1c1c1c" stroke="#1c1c1c" stroke-width="0.8" stroke-linejoin="round"/>
<path d="M555.2 199.2 L558.4 197.3 L561.6 199.2 L558.4 201.1 Z" fill="#1c1c1c" stroke="#1c1c1c" stroke-width="0.8" stroke-linejoin="round"/>
<line x1="509.6" y1="190" x2="527.7" y2="226.7" stroke="#1c1c1c" stroke-width="1.15"/>
<line x1="541.8" y1="208.4" x2="533.7" y2="230.3" stroke="#1c1c1c" stroke-width="1.15"/>
<line x1="557.6" y1="200" x2="539.2" y2="227.4" stroke="#1c1c1c" stroke-width="1.15"/>
<path d="M527.7 226.7 L533.7 230.3 L539.7 227" fill="none" stroke="#1c1c1c" stroke-width="1.15" stroke-linejoin="round"/>
<circle cx="527.4" cy="226.6" r="0.9" fill="#1c1c1c"/>
<circle cx="539.6" cy="227" r="0.9" fill="#1c1c1c"/>
</g>
</svg>
</body></html>
